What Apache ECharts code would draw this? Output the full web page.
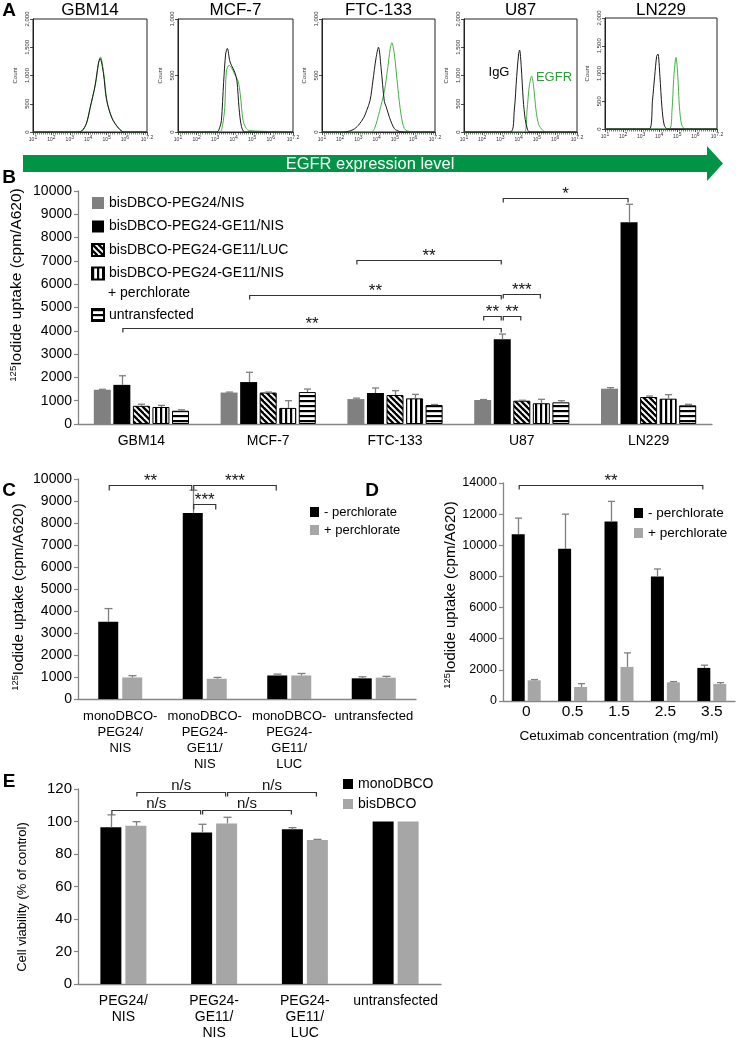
<!DOCTYPE html>
<html><head><meta charset="utf-8">
<script src="https://cdn.jsdelivr.net/npm/echarts@6/dist/echarts.min.js"></script>
<style>html,body{margin:0;padding:0;background:#fff}#c{width:736px;height:1038px}</style>
</head><body><div id="c"></div>
<script>
// ================= DATA =================
// Panel A: flow cytometry histograms, points are [log10 fluorescence, count]
const histTitles = ['GBM14', 'MCF-7', 'FTC-133', 'U87', 'LN229'];
const histYMax = [2000, 1000, 1000, 2000, 2000];
const iggGBM14 = [[1,0],[3.4,0],[3.65,20],[3.9,150],[4.1,420],[4.38,830],[4.56,1220],[4.65,1300],[4.83,1040],[5.0,570],[5.29,250],[5.65,70],[5.95,0],[7.2,0]];
const egfrGBM14 = [[1,0],[3.4,0],[3.7,25],[3.92,160],[4.12,440],[4.4,850],[4.58,1240],[4.67,1330],[4.85,1030],[5.02,560],[5.3,240],[5.65,65],[5.95,0],[7.2,0]];
const iggMCF7 = [[1,0],[3.1,0],[3.25,40],[3.34,100],[3.46,440],[3.57,690],[3.66,740],[3.79,630],[3.88,590],[4.06,530],[4.18,450],[4.29,215],[4.42,50],[4.6,0],[7.2,0]];
const egfrMCF7 = [[1,0],[3.25,0],[3.4,60],[3.52,215],[3.61,540],[3.75,590],[3.88,570],[4.06,510],[4.24,450],[4.36,330],[4.51,100],[4.69,30],[4.87,12],[5.8,5],[6.0,0],[7.2,0]];
const iggFTC133 = [[1,0],[2.2,0],[2.7,20],[3.0,60],[3.3,130],[3.45,190],[3.64,280],[3.79,450],[3.97,660],[4.1,750],[4.24,570],[4.42,270],[4.52,225],[4.7,130],[4.97,30],[5.24,5],[5.5,0],[7.2,0]];
const egfrFTC133 = [[1,0],[3.7,0],[3.88,30],[4.15,180],[4.42,360],[4.61,570],[4.74,735],[4.83,790],[4.97,690],[5.16,390],[5.34,150],[5.52,30],[5.75,5],[6.0,0],[7.2,0]];
const iggU87 = [[1,0],[3.55,0],[3.76,390],[3.89,980],[4.0,1390],[4.05,1450],[4.14,1160],[4.25,570],[4.36,220],[4.49,40],[4.6,0],[7.2,0]];
const egfrU87 = [[1,0],[4.3,0],[4.46,390],[4.58,810],[4.71,990],[4.82,810],[4.95,390],[5.1,130],[5.32,30],[5.5,0],[7.2,0]];
const iggLN229 = [[1,0],[3.45,0],[3.63,520],[3.75,950],[3.86,1310],[3.93,1350],[4.04,950],[4.15,400],[4.28,70],[4.47,0],[7.2,0]];
const egfrLN229 = [[1,0],[4.56,0],[4.71,340],[4.8,890],[4.9,1260],[4.93,1290],[5.03,950],[5.12,400],[5.25,70],[5.45,0],[7.2,0]];

// Panel B: 125I uptake (cpm/A620), mean and SD
const cellLines = ['GBM14', 'MCF-7', 'FTC-133', 'U87', 'LN229'];
const bNames = ['bisDBCO-PEG24/NIS', 'bisDBCO-PEG24-GE11/NIS', 'bisDBCO-PEG24-GE11/LUC', 'bisDBCO-PEG24-GE11/NIS + perchlorate', 'untransfected'];
const bPeg24Nis = [1470, 1350, 1070, 1030, 1515];
const bPeg24NisSd = [20, 20, 40, 20, 45];
const bGe11Nis = [1680, 1800, 1330, 3635, 8655];
const bGe11NisSd = [390, 420, 215, 225, 775];
const bGe11Luc = [780, 1350, 1245, 1000, 1160];
const bGe11LucSd = [70, 20, 185, 20, 40];
const bGe11NisPerc = [730, 690, 1100, 890, 1087];
const bGe11NisPercSd = [70, 310, 170, 170, 173];
const bUntransfected = [570, 1370, 815, 930, 800];
const bUntransfectedSd = [40, 130, 20, 70, 45];
const bBrackets = [
  {from: [3, 1], to: [4, 1], y: 9700, label: '*'},
  {from: [2, 0], to: [3, 1], y: 7040, label: '**'},
  {from: [1, 1], to: [3, 1], y: 5540, label: '**'},
  {from: [0, 1], to: [3, 1], y: 4120, label: '**'},
  {from: [3, 0], to: [3, 1], y: 4640, label: '**'},
  {from: [3, 1], to: [3, 2], y: 4640, label: '**'},
  {from: [3, 1], to: [3, 3], y: 5580, label: '***'}
];

// Panel C
const cCats = ['monoDBCO-\nPEG24/\nNIS', 'monoDBCO-\nPEG24-\nGE11/\nNIS', 'monoDBCO-\nPEG24-\nGE11/\nLUC', 'untransfected'];
const cMinus = [3510, 8460, 1070, 940];
const cMinusSd = [600, 1030, 60, 70];
const cPlus = [980, 920, 1070, 970];
const cPlusSd = [80, 60, 90, 60];
const cBrackets = [
  {from: [0, 0], to: [1, 0], y: 9730, label: '**'},
  {from: [1, 0], to: [2, 0], y: 9730, label: '***'},
  {from: [1, 0], to: [1, 1], y: 8860, label: '***'}
];

// Panel D
const dConc = ['0', '0.5', '1.5', '2.5', '3.5'];
const dMinus = [10715, 9770, 11530, 7990, 2125];
const dMinusSd = [1030, 2230, 1290, 490, 175];
const dPlus = [1330, 900, 2190, 1200, 1095];
const dPlusSd = [45, 215, 900, 45, 85];
const dBrackets = [{from: [0, 0], to: [4, 0], y: 13870, label: '**'}];

// Panel E
const eCats = ['PEG24/\nNIS', 'PEG24-\nGE11/\nNIS', 'PEG24-\nGE11/\nLUC', 'untransfected'];
const eMono = [96.4, 93.3, 95.2, 100];
const eMonoSd = [7.7, 5.0, 1.0, 0];
const eBis = [97.4, 98.8, 88.6, 100];
const eBisSd = [2.5, 3.8, 0.4, 0];
const eBrackets = [
  {from: [0, 1], to: [1, 1], y: 118.2, label: 'n/s'},
  {from: [1, 1], to: [2, 1], y: 118.2, label: 'n/s'},
  {from: [0, 0], to: [1, 0], y: 107.1, label: 'n/s'},
  {from: [1, 0], to: [2, 0], y: 107.1, label: 'n/s'}
];

// ================= RENDER =================
const FONT = '"Liberation Sans", Arial, sans-serif';
const chart = echarts.init(document.getElementById('c'), null, {renderer: 'canvas', width: 736, height: 1038});

function makePattern(kind) {
  const c = document.createElement('canvas');
  const g = c.getContext('2d');
  if (kind === 'vert') {
    c.width = 5; c.height = 5; g.fillStyle = '#fff'; g.fillRect(0, 0, 5, 5); g.fillStyle = '#000'; g.fillRect(0, 0, 2.2, 5);
  } else if (kind === 'horiz') {
    c.width = 5; c.height = 5; g.fillStyle = '#fff'; g.fillRect(0, 0, 5, 5); g.fillStyle = '#000'; g.fillRect(0, 0, 5, 2.2);
  } else {
    const s = 6; c.width = s; c.height = s;
    g.fillStyle = '#fff'; g.fillRect(0, 0, s, s);
    g.strokeStyle = '#000'; g.lineWidth = 2.3;
    for (const k of [-1, 0, 1]) { g.beginPath(); g.moveTo(k * s - 1, -1); g.lineTo(k * s + s + 1, s + 1); g.stroke(); }
  }
  return {image: c, repeat: 'repeat'};
}
const diagPat = makePattern('diag'), vertPat = makePattern('vert'), horizPat = makePattern('horiz');

function barOffset(i, n, bw, gapPct) { return (i - (n - 1) / 2) * (bw * (1 + gapPct)); }

function errSeries(ax, means, sds, i, n, bw, gapPct, color, cap) {
  return {
    type: 'custom', xAxisIndex: ax, yAxisIndex: ax, silent: true, z: 5, clip: false,
    encode: {x: 0, y: [1, 2]},
    data: means.map((m, k) => [k, m, m + sds[k]]),
    renderItem: (p, api) => {
      if (!(api.value(2) - api.value(1) > 0)) return null;
      const a = api.coord([api.value(0), api.value(1)]);
      const b = api.coord([api.value(0), api.value(2)]);
      const x = Math.round(a[0] + barOffset(i, n, bw, gapPct)) + 0.5;
      return {type: 'group', children: [
        {type: 'line', shape: {x1: x, y1: a[1], x2: x, y2: b[1]}, style: {stroke: color, lineWidth: 1.3}},
        {type: 'line', shape: {x1: x - cap / 2, y1: b[1], x2: x + cap / 2, y2: b[1]}, style: {stroke: color, lineWidth: 1.3}}
      ]};
    }
  };
}

function bracketSeries(ax, list, n, bw, gapPct, fontSize, drop) {
  return {
    type: 'custom', xAxisIndex: ax, yAxisIndex: ax, silent: true, z: 6, clip: false,
    encode: {x: 0, y: 4},
    data: list.map(b => [b.from[0], b.from[1], b.to[0], b.to[1], b.y]),
    renderItem: (p, api) => {
      const lab = list[p.dataIndex].label;
      const isStar = lab.charAt(0) === '*';
      const a = api.coord([api.value(0), api.value(4)]);
      const c = api.coord([api.value(2), api.value(4)]);
      const x1 = a[0] + barOffset(api.value(1), n, bw, gapPct) + 1;
      const x2 = c[0] + barOffset(api.value(3), n, bw, gapPct) - 1;
      const y = Math.round(a[1]) + 0.5;
      return {type: 'group', children: [
        {type: 'polyline', shape: {points: [[x1, y + drop], [x1, y], [x2, y], [x2, y + drop]]}, style: {stroke: '#333', lineWidth: 1.2, fill: 'none'}},
        {type: 'text', x: (x1 + x2) / 2, y: isStar ? y + 4 : y + 0.5, style: {text: lab, fontSize: fontSize, fontFamily: FONT, fill: '#111', align: 'center', verticalAlign: 'bottom'}}
      ]};
    }
  };
}

const histData = [[iggGBM14, egfrGBM14], [iggMCF7, egfrMCF7], [iggFTC133, egfrFTC133], [iggU87, egfrU87], [iggLN229, egfrLN229]];
const histBoxes = [
  {left: 33, top: 19, width: 114, height: 113},
  {left: 178, top: 19, width: 115, height: 113},
  {left: 322, top: 19, width: 113, height: 113},
  {left: 464, top: 19, width: 113, height: 113},
  {left: 605, top: 18, width: 112, height: 111}
];

const grids = [], xAxes = [], yAxes = [], series = [], graphics = [];
const AXC = '#868686';

histBoxes.forEach((b, i) => {
  grids.push(Object.assign({show: true, borderColor: '#222', borderWidth: 1, backgroundColor: 'transparent', outerBoundsMode: 'none'}, b));
  xAxes.push({
    type: 'value', gridIndex: i, min: 1, max: 7.2, interval: 1,
    axisLine: {lineStyle: {color: '#222', width: 1}},
    axisTick: {show: true, length: 3, lineStyle: {color: '#222', width: 0.8}},
    minorTick: {show: true, splitNumber: 9, length: 2.5, lineStyle: {color: '#222', width: 0.6}},
    splitLine: {show: false},
    axisLabel: {
      showMaxLabel: true, margin: 3, color: '#333',
      formatter: v => Math.abs(v - 7) < 1e-6 ? '' : '{b|10}{s|' + (Number.isInteger(v) ? v : v.toFixed(1)) + '}',
      rich: {b: {fontSize: 5, fontFamily: FONT, color: '#333'}, s: {fontSize: 5, fontFamily: FONT, color: '#333', padding: [0, 0, 4, 0]}}
    }
  });
  yAxes.push({
    type: 'value', gridIndex: i, min: 0, max: histYMax[i], interval: 500,
    axisLine: {show: true, lineStyle: {color: '#222', width: 1}},
    axisTick: {show: true, length: 3, lineStyle: {color: '#222', width: 0.8}},
    splitLine: {show: false},
    axisLabel: {rotate: 90, fontSize: 6, color: '#333', margin: 3, formatter: v => v.toLocaleString('en-US')},
    name: 'Count', nameLocation: 'middle', nameGap: 15, nameRotate: 90,
    nameTextStyle: {fontSize: 6, color: '#333', fontFamily: FONT}
  });
  series.push({type: 'line', xAxisIndex: i, yAxisIndex: i, data: histData[i][1], smooth: 0.3, showSymbol: false, symbol: 'none', lineStyle: {color: '#45b045', width: 1}, z: 2, silent: true});
  series.push({type: 'line', xAxisIndex: i, yAxisIndex: i, data: histData[i][0], smooth: 0.3, showSymbol: false, symbol: 'none', lineStyle: {color: '#1a1a1a', width: 1}, z: 3, silent: true});
  graphics.push({type: 'text', x: b.left + b.width / 2, y: 10, style: {text: histTitles[i], fontSize: 17, fontFamily: FONT, fill: '#000', align: 'center', verticalAlign: 'middle'}});
});

function barAxes(gi, cats, ymax, yint, tickFont, catFont, catMargin, catLH, extraX) {
  xAxes.push(Object.assign({
    type: 'category', gridIndex: gi, data: cats,
    axisLine: {lineStyle: {color: AXC, width: 1.3}}, axisTick: {show: false},
    axisLabel: {interval: 0, fontSize: catFont, color: '#000', margin: catMargin, lineHeight: catLH, fontFamily: FONT}
  }, extraX || {}));
  yAxes.push({
    type: 'value', gridIndex: gi, min: 0, max: ymax, interval: yint,
    axisLine: {show: true, lineStyle: {color: AXC, width: 1.3}},
    axisTick: {show: true, length: 4, lineStyle: {color: AXC, width: 1.2}},
    splitLine: {show: false},
    axisLabel: {fontSize: tickFont, color: '#000', margin: 6, fontFamily: FONT, formatter: v => String(v)}
  });
}

// ---- Panel B (index 5)
grids.push({left: 78, top: 191, width: 634, height: 233, outerBoundsMode: 'none'});
barAxes(5, cellLines, 10000, 1000, 14, 14, 9, 16);
const bVals = [bPeg24Nis, bGe11Nis, bGe11Luc, bGe11NisPerc, bUntransfected];
const bSds = [bPeg24NisSd, bGe11NisSd, bGe11LucSd, bGe11NisPercSd, bUntransfectedSd];
const bStyles = [
  {color: '#808080'},
  {color: '#000'},
  {color: diagPat, borderColor: '#000', borderWidth: 1},
  {color: vertPat, borderColor: '#000', borderWidth: 1},
  {color: horizPat, borderColor: '#000', borderWidth: 1}
];
const B_BW = 17, B_GAP = 0.15;
bNames.forEach((nm, k) => {
  series.push({name: nm, type: 'bar', xAxisIndex: 5, yAxisIndex: 5, data: bVals[k], barWidth: B_BW, barGap: (B_GAP * 100) + '%', itemStyle: bStyles[k], silent: true, z: 2});
});
bNames.forEach((nm, k) => series.push(errSeries(5, bVals[k], bSds[k], k, 5, B_BW, B_GAP, '#7f7f7f', 7)));
series.push(bracketSeries(5, bBrackets, 5, B_BW, B_GAP, 17, 4));

// ---- Panel C (index 6)
grids.push({left: 78, top: 479, width: 338, height: 220, outerBoundsMode: 'none'});
barAxes(6, cCats, 10000, 1000, 14, 13, 9, 16);
const C_BW = 20, C_GAP = 0.2;
series.push({name: '- perchlorate', type: 'bar', xAxisIndex: 6, yAxisIndex: 6, data: cMinus, barWidth: C_BW, barGap: '20%', itemStyle: {color: '#000'}, silent: true});
series.push({name: '+ perchlorate', type: 'bar', xAxisIndex: 6, yAxisIndex: 6, data: cPlus, barWidth: C_BW, barGap: '20%', itemStyle: {color: '#a6a6a6'}, silent: true});
series.push(errSeries(6, cMinus, cMinusSd, 0, 2, C_BW, C_GAP, '#7f7f7f', 8));
series.push(errSeries(6, cPlus, cPlusSd, 1, 2, C_BW, C_GAP, '#7f7f7f', 8));
series.push(bracketSeries(6, cBrackets, 2, C_BW, C_GAP, 17, 5));

// ---- Panel D (index 7)
grids.push({left: 503, top: 483, width: 232, height: 218, outerBoundsMode: 'none'});
barAxes(7, dConc, 14000, 2000, 12.5, 15.5, 3, 16, {
  name: 'Cetuximab concentration (mg/ml)', nameLocation: 'middle', nameGap: 28,
  nameTextStyle: {fontSize: 13.5, color: '#000', fontFamily: FONT}
});
const D_BW = 13, D_GAP = 0.23;
series.push({name: '- perchlorate', type: 'bar', xAxisIndex: 7, yAxisIndex: 7, data: dMinus, barWidth: D_BW, barGap: '23%', itemStyle: {color: '#000'}, silent: true});
series.push({name: '+ perchlorate', type: 'bar', xAxisIndex: 7, yAxisIndex: 7, data: dPlus, barWidth: D_BW, barGap: '23%', itemStyle: {color: '#a6a6a6'}, silent: true});
series.push(errSeries(7, dMinus, dMinusSd, 0, 2, D_BW, D_GAP, '#7f7f7f', 7));
series.push(errSeries(7, dPlus, dPlusSd, 1, 2, D_BW, D_GAP, '#7f7f7f', 7));
series.push(bracketSeries(7, dBrackets, 2, D_BW, D_GAP, 17, 4));

// ---- Panel E (index 8)
grids.push({left: 78, top: 789, width: 363, height: 195, outerBoundsMode: 'none'});
barAxes(8, eCats, 120, 20, 15, 14, 9, 16);
const E_BW = 21, E_GAP = 0.19;
series.push({name: 'monoDBCO', type: 'bar', xAxisIndex: 8, yAxisIndex: 8, data: eMono, barWidth: E_BW, barGap: '19%', itemStyle: {color: '#000'}, silent: true});
series.push({name: 'bisDBCO', type: 'bar', xAxisIndex: 8, yAxisIndex: 8, data: eBis, barWidth: E_BW, barGap: '19%', itemStyle: {color: '#a6a6a6'}, silent: true});
series.push(errSeries(8, eMono, eMonoSd, 0, 2, E_BW, E_GAP, '#7f7f7f', 8));
series.push(errSeries(8, eBis, eBisSd, 1, 2, E_BW, E_GAP, '#7f7f7f', 8));
series.push(bracketSeries(8, eBrackets, 2, E_BW, E_GAP, 15, 4));

// ---- legends
const legBase = {orient: 'vertical', icon: 'rect', selectedMode: false, padding: 0, itemStyle: {}, textStyle: {color: '#000', fontFamily: FONT}};
const legends = [
  Object.assign({}, legBase, {data: bNames.slice(0, 4), left: 91, top: 196, itemWidth: 12, itemHeight: 12, itemGap: 9.5,
    textStyle: {color: '#000', fontFamily: FONT, fontSize: 14, lineHeight: 14},
    formatter: n => n.replace(' + perchlorate', '')}),
  Object.assign({}, legBase, {data: [bNames[4]], left: 91, top: 308, itemWidth: 12, itemHeight: 12,
    textStyle: {color: '#000', fontFamily: FONT, fontSize: 14, lineHeight: 14}}),
  Object.assign({}, legBase, {data: ['- perchlorate', '+ perchlorate'], left: 310, top: 505.5, itemWidth: 9, itemHeight: 10, itemGap: 5,
    textStyle: {color: '#000', fontFamily: FONT, fontSize: 13, lineHeight: 13}}),
  Object.assign({}, legBase, {data: ['- perchlorate', '+ perchlorate'], left: 634, top: 506, itemWidth: 9, itemHeight: 10, itemGap: 6,
    textStyle: {color: '#000', fontFamily: FONT, fontSize: 13.5, lineHeight: 13}}),
  Object.assign({}, legBase, {data: ['monoDBCO', 'bisDBCO'], left: 343, top: 777, itemWidth: 10, itemHeight: 10, itemGap: 6,
    textStyle: {color: '#000', fontFamily: FONT, fontSize: 14, lineHeight: 13}})
];

// ---- decorations and titles
const letter = (t, x, y) => ({type: 'text', x, y, style: {text: t, fontSize: 19, fontWeight: 'bold', fontFamily: FONT, fill: '#000', align: 'center', verticalAlign: 'middle'}});
graphics.push(letter('A', 9, 11), letter('B', 9, 178), letter('C', 9, 491), letter('D', 372, 491), letter('E', 9, 782));
graphics.push({type: 'polygon', shape: {points: [[23, 155], [707, 155], [707, 146], [723, 163.5], [707, 181], [707, 172], [23, 172]]}, style: {fill: '#009444'}});
graphics.push({type: 'text', x: 370, y: 164, style: {text: 'EGFR expression level', fontSize: 16.5, fontFamily: FONT, fill: '#fff', align: 'center', verticalAlign: 'middle'}});
graphics.push({type: 'text', x: 108, y: 293, style: {text: '+ perchlorate', fontSize: 14, fontFamily: FONT, fill: '#000', align: 'left', verticalAlign: 'middle'}});
graphics.push({type: 'text', x: 499, y: 72, style: {text: 'IgG', fontSize: 13, fontFamily: FONT, fill: '#000', align: 'center', verticalAlign: 'middle'}});
graphics.push({type: 'text', x: 554, y: 77, style: {text: 'EGFR', fontSize: 13, fontFamily: FONT, fill: '#2e9e3a', align: 'center', verticalAlign: 'middle'}});
const yTitle = (x, y, fs, main, sup) => ({type: 'text', x, y, rotation: Math.PI / 2, style: {
  text: (sup ? '{s|' + sup + '}' : '') + '{m|' + main + '}', align: 'center', verticalAlign: 'middle', fill: '#000',
  rich: {m: {fontSize: fs, fontFamily: FONT, fill: '#000', lineHeight: fs + 2}, s: {fontSize: fs * 0.62, fontFamily: FONT, fill: '#000', verticalAlign: 'top', padding: [0, 0, fs * 0.45, 0]}}
}});
graphics.push(yTitle(17, 285, 15.5, 'Iodide uptake (cpm/A620)', '125'));
graphics.push(yTitle(19, 597, 15, 'Iodide uptake (cpm/A620)', '125'));
graphics.push(yTitle(451, 595, 15, 'Iodide uptake (cpm/A620)', '125'));
graphics.push(yTitle(22, 897, 13, 'Cell viability (% of control)', null));

chart.setOption({
  animation: false,
  backgroundColor: '#fff',
  textStyle: {fontFamily: FONT},
  grid: grids, xAxis: xAxes, yAxis: yAxes, series: series, legend: legends, graphic: graphics
});
</script></body></html>
